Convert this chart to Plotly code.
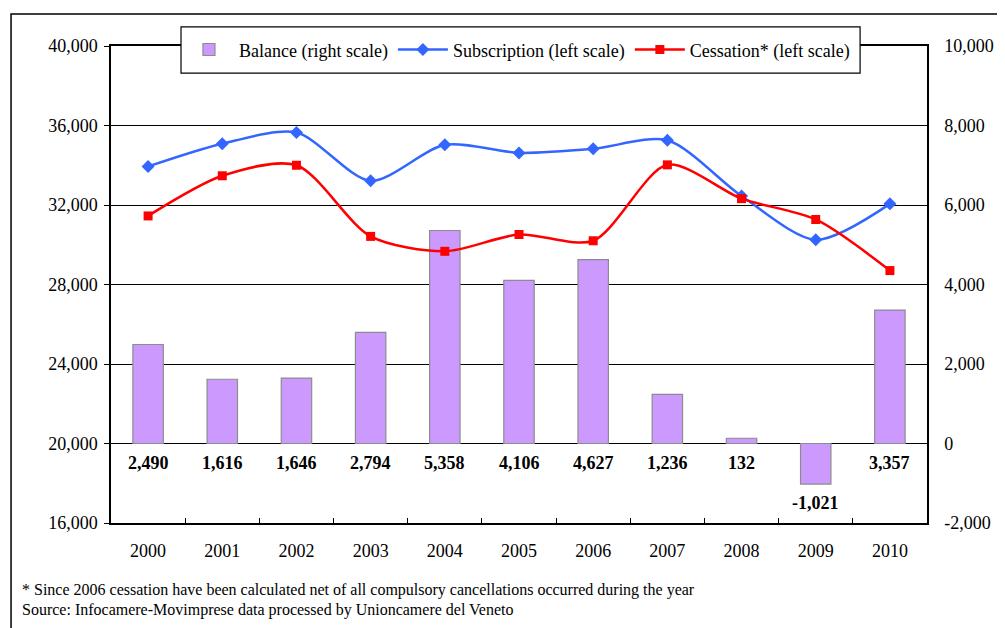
import plotly.graph_objects as go

# Data
years = ['2000', '2001', '2002', '2003', '2004', '2005',
         '2006', '2007', '2008', '2009', '2010']
balance = [2490, 1616, 1646, 2794, 5358, 4106, 4627, 1236, 132, -1021, 3357]
subscription = [33940, 35086, 35646, 33214, 35028, 34622,
                34827, 35256, 32452, 30250, 32057]
cessation = [31450, 33470, 34000, 30420, 29670, 30516,
             30200, 34020, 32320, 31271, 28700]

# right axis tick labels (hyphen minus as in the original)
right_ticks = [-2000, 0, 2000, 4000, 6000, 8000, 10000]
right_labels = ['-2,000', '0', '2,000', '4,000', '6,000', '8,000', '10,000']

FONT = 'Liberation Serif'

fig = go.Figure()

# Balance bars (right scale) - primary y so that lines sit on top
fig.add_trace(go.Bar(
    x=years, y=balance,
    name='Balance (right scale)',
    marker=dict(color='#CC99FF', line=dict(color='#8C8C8C', width=1.2)),
    width=0.41,
    yaxis='y'
))

# Subscription line (left scale)
fig.add_trace(go.Scatter(
    x=years, y=subscription,
    mode='lines+markers',
    name='Subscription (left scale)',
    line=dict(color='#3366FF', width=2.5, shape='spline', smoothing=0.8),
    marker=dict(symbol='diamond', size=10, color='#3366FF'),
    yaxis='y2'
))

# Cessation line (left scale)
fig.add_trace(go.Scatter(
    x=years, y=cessation,
    mode='lines+markers',
    name='Cessation* (left scale)',
    line=dict(color='#FF0000', width=2.5, shape='spline', smoothing=0.8),
    marker=dict(symbol='square', size=9, color='#FF0000'),
    yaxis='y2'
))

# Balance value labels under the bars (x given as category index)
annotations = []
for i, v in enumerate(balance):
    annotations.append(dict(
        x=i, y=min(v, 0), xref='x', yref='y',
        text='<b>{:,}</b>'.format(v),
        showarrow=False, yanchor='top', yshift=-7,
        font=dict(family=FONT, size=18, color='black')
    ))

# Footnotes
annotations.append(dict(
    x=-0.111, y=-0.140, xref='paper', yref='paper',
    xanchor='left', yanchor='middle', showarrow=False,
    text='* Since 2006 cessation have been calculated net of all compulsory cancellations occurred during the year',
    font=dict(family=FONT, size=16, color='black')
))
annotations.append(dict(
    x=-0.111, y=-0.183, xref='paper', yref='paper',
    xanchor='left', yanchor='middle', showarrow=False,
    text='Source: Infocamere-Movimprese data processed by Unioncamere del Veneto',
    font=dict(family=FONT, size=16, color='black')
))

shapes = [
    # outer frame around the chart
    dict(type='rect', xref='paper', yref='paper',
         x0=-0.1225, x1=1.2, y0=-0.4, y1=1.067,
         line=dict(color='black', width=1.5), fillcolor='rgba(0,0,0,0)',
         layer='below'),
    # legend box
    dict(type='rect', xref='paper', yref='paper',
         x0=0.0858, x1=0.918, y0=0.943, y1=1.040,
         line=dict(color='black', width=1.2), fillcolor='white',
         layer='above'),
]

# the page body adds an 8px offset, margins compensate for it
fig.update_layout(
    width=1005, height=628,
    margin=dict(l=103, r=86, t=38, b=113),
    paper_bgcolor='white', plot_bgcolor='white',
    font=dict(family=FONT, size=16, color='black'),
    showlegend=True,
    legend=dict(
        orientation='h', x=0.4975, y=0.992,
        xanchor='center', yanchor='middle',
        bgcolor='rgba(0,0,0,0)', borderwidth=0,
        font=dict(family=FONT, size=18),
        traceorder='normal', itemwidth=50
    ),
    bargap=0.59,
    xaxis=dict(
        type='category', range=[-0.5, 10.5],
        showline=True, linecolor='black', linewidth=1.5, mirror=True,
        ticks='inside', tickson='boundaries', ticklen=5,
        tickcolor='black', ticklabelstandoff=11,
        showgrid=False,
        tickfont=dict(family=FONT, size=18)
    ),
    yaxis=dict(
        side='right', range=[-2000, 10000],
        tickvals=right_ticks, ticktext=right_labels,
        showgrid=True, gridcolor='black', gridwidth=1,
        zeroline=True, zerolinecolor='black', zerolinewidth=1.2,
        showline=True, linecolor='black', linewidth=1.5,
        ticks='', ticklabelstandoff=12,
        tickfont=dict(family=FONT, size=18)
    ),
    yaxis2=dict(
        overlaying='y', side='left', range=[16000, 40000], dtick=4000,
        tickformat=',', showgrid=False, zeroline=False,
        showline=True, linecolor='black', linewidth=1.5,
        ticks='outside', ticklen=5, tickcolor='black',
        ticklabelstandoff=3,
        tickfont=dict(family=FONT, size=18)
    ),
    annotations=annotations,
    shapes=shapes
)

fig.write_html('out.html')
